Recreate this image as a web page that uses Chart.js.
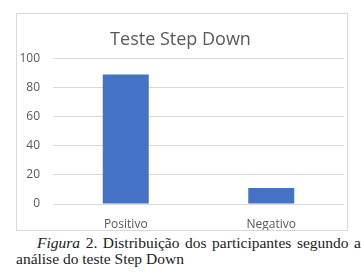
<!DOCTYPE html>
<html>
<head>
<meta charset="utf-8">
<script src="https://cdn.jsdelivr.net/npm/chart.js@4"></script>
<style>
  body { margin: 0; background: #fff; width: 361px; height: 278px; position: relative; overflow: hidden; }
  #box { position: absolute; left: 16px; top: 13px; width: 330px; height: 216px; border: 1px solid #d9d9d9; }
  #box canvas { display: block; }
  .cap { position: absolute; font-family: "Liberation Serif", "DejaVu Serif", serif; font-size: 15.5px; color: #222; white-space: nowrap; line-height: 18px; }
  #cap1 { left: 37px; top: 234px; width: 324px; text-align: justify; text-align-last: justify; }
  #cap2 { left: 16px; top: 250px; }
</style>
</head>
<body>
<div id="box"><canvas id="chart" width="330" height="216"></canvas></div>
<div class="cap" id="cap1"><i>Figura</i> 2. Distribuição dos participantes segundo a</div>
<div class="cap" id="cap2">análise do teste Step Down</div>
<script>
// Teste Step Down - bar chart
const categories = ["Positivo", "Negativo"];
const values = [89, 11];
const yTicks = [0, 20, 40, 60, 80, 100];

const gray = "#595959";

new Chart(document.getElementById("chart").getContext("2d"), {
  type: "bar",
  data: {
    labels: categories,
    datasets: [
      {
        data: values,
        backgroundColor: "#4472c4",
        barPercentage: 0.316,
        categoryPercentage: 1,
      },
    ],
  },
  options: {
    responsive: false,
    animation: false,
    layout: { padding: { left: 0, right: 3, top: 0, bottom: 0 } },
    plugins: {
      legend: { display: false },
      tooltip: { enabled: false },
      title: {
        display: true,
        text: "Teste Step Down",
        color: gray,
        font: { family: "'Open Sans', sans-serif", size: 18, weight: "normal" },
        padding: { top: 15, bottom: 8 },
      },
    },
    scales: {
      y: {
        min: yTicks[0],
        max: yTicks[yTicks.length - 1],
        afterBuildTicks: (s) => {
          s.ticks = yTicks.map((v) => ({ value: v }));
        },
        afterFit: (s) => {
          s.width = 36;
        },
        ticks: {
          color: gray,
          padding: 13,
          font: { family: "'Open Sans', sans-serif", size: 12 },
        },
        grid: { color: "#d9d9d9", drawTicks: false },
        border: { display: false },
      },
      x: {
        afterFit: (s) => {
          s.height = 26;
        },
        ticks: {
          color: gray,
          padding: 13,
          font: { family: "'Open Sans', sans-serif", size: 12 },
        },
        grid: { display: false, drawTicks: false },
        border: { display: false },
      },
    },
  },
});
</script>
</body>
</html>
